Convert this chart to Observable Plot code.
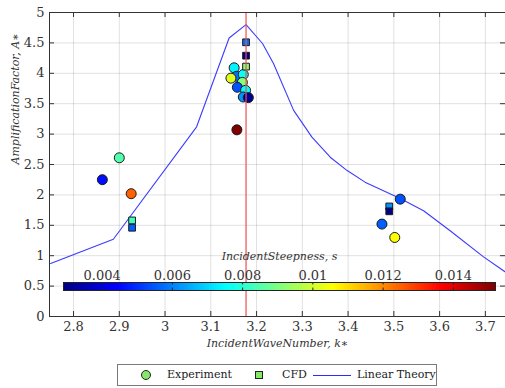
<!DOCTYPE html>
<html><head><meta charset="utf-8">
<script src="https://cdn.jsdelivr.net/npm/d3@7"></script>
<script src="https://cdn.jsdelivr.net/npm/@observablehq/plot@0.6"></script>
<style>
body{margin:0;background:#fff;}
#wrap{position:relative;width:505px;height:388px;font-family:"DejaVu Serif",serif;overflow:hidden;}
#cbar{position:absolute;left:0;top:240px;}
#legend{position:absolute;left:117px;top:364px;width:318px;height:20px;border:1px solid #7a7a7a;background:#fff;font-size:11px;color:#222;}
#legend span{position:absolute;top:1px;line-height:18px;white-space:nowrap;}
#legend .c{position:absolute;top:5px;left:23px;width:8px;height:8px;border-radius:50%;border:1px solid #222;background:#86e86b;}
#legend .s{position:absolute;top:6px;left:137px;width:6px;height:6px;border:1px solid #222;background:#86e86b;}
#legend .l{position:absolute;top:10px;left:195px;width:38px;height:0;border-top:1.2px solid #2b2bff;}
</style>
</head><body>
<div id="wrap"><div id="main"></div><div id="cbar"></div>
<div id="legend"><div class="c"></div><span style="left:49px">Experiment</span><div class="s"></div><span style="left:164px">CFD</span><div class="l"></div><span style="left:239px">Linear Theory</span></div>
</div>
<script>
// ---- data ----
const xTicks = [2.8, 2.9, 3, 3.1, 3.2, 3.3, 3.4, 3.5, 3.6, 3.7];
const yTicks = [0, 0.5, 1, 1.5, 2, 2.5, 3, 3.5, 4, 4.5, 5];
const sTicks = [0.004, 0.006, 0.008, 0.01, 0.012, 0.014];
const xDomain = [2.7475, 3.744];
const yDomain = [0, 5];
const sDomain = [0.0029, 0.0152];
const kPeak = 3.177;

const thK = [2.75, 2.887, 3.069, 3.140, 3.177, 3.213, 3.237, 3.281, 3.321, 3.361, 3.398, 3.437, 3.514, 3.565, 3.623, 3.696, 3.744];
const thA = [0.87, 1.27, 3.12, 4.58, 4.80, 4.49, 4.16, 3.39, 2.95, 2.62, 2.40, 2.21, 1.94, 1.74, 1.41, 0.98, 0.73];

const expK = [2.863, 2.900, 2.926, 3.151, 3.156, 3.144, 3.171, 3.169, 3.158, 3.176, 3.171, 3.182, 3.157, 3.514, 3.474, 3.502];
const expA = [2.25, 2.61, 2.02, 4.09, 3.95, 3.92, 3.98, 3.85, 3.77, 3.72, 3.61, 3.60, 3.07, 1.93, 1.52, 1.30];
const expS = [0.0046, 0.0085, 0.0125, 0.0074, 0.0058, 0.0102, 0.0076, 0.0091, 0.0054, 0.0075, 0.0062, 0.0031, 0.0152, 0.0054, 0.0056, 0.0106];

const cfdK = [2.928, 2.928, 3.177, 3.177, 3.177, 3.490, 3.490];
const cfdA = [1.58, 1.46, 4.51, 4.29, 4.11, 1.81, 1.73];
const cfdS = [0.0083, 0.0056, 0.0058, 0.0031, 0.0091, 0.0062, 0.0030];

const xLabel = "IncidentWaveNumber, k\u2217";
const yLabel = "AmplificationFactor, A\u2217";
const sLabel = "IncidentSteepness, s";

// ---- build ----
const theory = thK.map((k, i) => ({k, A: thA[i]}));
const exp = expK.map((k, i) => ({k, A: expA[i], s: expS[i]}));
const cfd = cfdK.map((k, i) => ({k, A: cfdA[i], s: cfdS[i]}));

const cl = v => Math.max(0, Math.min(1, v));
const jet = t => {
  const r = cl(1.5 - Math.abs(4 * t - 3)), g = cl(1.5 - Math.abs(4 * t - 2)), b = cl(1.5 - Math.abs(4 * t - 1));
  return `rgb(${Math.round(r * 255)},${Math.round(g * 255)},${Math.round(b * 255)})`;
};
const colorOpts = {type: "linear", domain: sDomain, interpolate: jet, clamp: true};
const font = '"DejaVu Serif", serif';
const ink = "#333";
const tx = 0.0109, ty = 0.082;

const main = Plot.plot({
  width: 505, height: 360, marginLeft: 49, marginRight: 0, marginTop: 12, marginBottom: 44,
  style: {fontFamily: font, fontSize: "13px", color: ink, background: "transparent"},
  x: {domain: xDomain},
  y: {domain: yDomain},
  color: colorOpts,
  marks: [
    Plot.gridX(xTicks, {stroke: "#000", strokeOpacity: 0.12}),
    Plot.gridY(yTicks, {stroke: "#000", strokeOpacity: 0.12}),
    Plot.axisX(xTicks, {tickSize: 0, tickPadding: 5, tickFormat: d => String(d), label: null, fill: ink, fontFamily: font}),
    Plot.axisY(yTicks, {tickSize: 0, tickPadding: 5, tickFormat: d => String(d), label: null, fill: ink, fontFamily: font}),
    Plot.ruleX(xTicks, {y1: yDomain[0], y2: yDomain[0] + ty, stroke: ink}),
    Plot.ruleX(xTicks, {y1: yDomain[1] - ty, y2: yDomain[1], stroke: ink}),
    Plot.ruleY(yTicks, {x1: xDomain[0], x2: xDomain[0] + tx, stroke: ink}),
    Plot.ruleY(yTicks, {x1: xDomain[1] - tx, x2: xDomain[1], stroke: ink}),
    Plot.line(theory, {x: "k", y: "A", stroke: "#3b3bff", strokeWidth: 1.1, clip: true}),
    Plot.dot(exp, {x: "k", y: "A", fill: "s", r: 5, stroke: "#1a1a1a", strokeWidth: 1}),
    Plot.dot(cfd, {x: "k", y: "A", fill: "s", symbol: "square", r: 3.8, stroke: "#1a1a1a", strokeWidth: 1}),
    Plot.ruleX([kPeak], {stroke: "#ee5050", strokeWidth: 1.2}),
    Plot.frame({stroke: ink}),
    Plot.text([xLabel], {frameAnchor: "bottom", dy: 30, fontStyle: "italic", fontSize: 11, fill: ink, fontFamily: font}),
    Plot.text([yLabel], {frameAnchor: "left", dx: -34, rotate: -90, fontStyle: "italic", fontSize: 11, fill: ink, fontFamily: font})
  ]
});
document.getElementById("main").appendChild(main);

const N = 240;
const step = (sDomain[1] - sDomain[0]) / N;
const ramp = d3.range(N).map(i => sDomain[0] + i * step);
const cbar = Plot.plot({
  width: 505, height: 60, marginLeft: 63, marginRight: 10, marginTop: 42, marginBottom: 10,
  style: {fontFamily: font, fontSize: "13px", color: ink, background: "transparent"},
  x: {domain: sDomain, axis: null},
  y: {domain: [0, 1], axis: null},
  color: colorOpts,
  marks: [
    Plot.rect(ramp, {x1: d => d, x2: d => Math.min(sDomain[1], d + step * 1.6), y1: 0, y2: 1, fill: d => d + step / 2}),
    Plot.ruleX(sTicks, {y1: 0, y2: 0.3, stroke: "#222"}),
    Plot.ruleX(sTicks, {y1: 0.7, y2: 1, stroke: "#222"}),
    Plot.frame({stroke: "#222"}),
    Plot.text(sTicks, {x: d => d, frameAnchor: "top", dy: -12, text: d => String(d), fill: ink, fontFamily: font}),
    Plot.text([sLabel], {frameAnchor: "top", dy: -30, fontStyle: "italic", fontSize: 11, fill: ink, fontFamily: font})
  ]
});
document.getElementById("cbar").appendChild(cbar);
</script>
</body></html>
